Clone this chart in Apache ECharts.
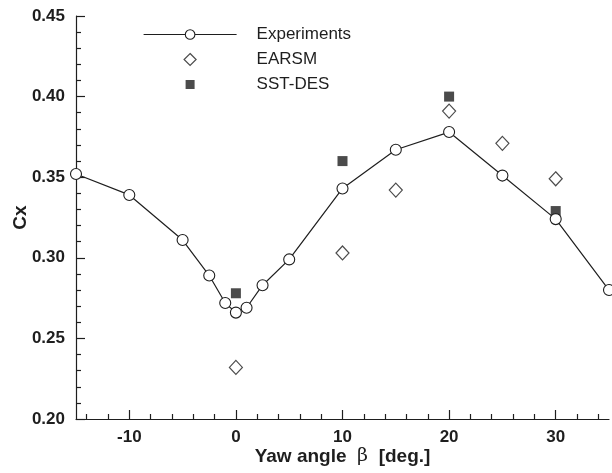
<!DOCTYPE html>
<html>
<head>
<meta charset="utf-8">
<script src="https://cdn.jsdelivr.net/npm/echarts@6/dist/echarts.min.js"></script>
<style>html,body{margin:0;padding:0;background:#fff;}#c{width:612px;height:473px;}</style>
</head>
<body>
<div id="c"></div>
<script>
var expX = [-15, -10, -5, -2.5, -1, 0, 1, 2.5, 5, 10, 15, 20, 25, 30, 35];
var expY = [0.352, 0.339, 0.311, 0.289, 0.272, 0.266, 0.269, 0.283, 0.299, 0.343, 0.367, 0.378, 0.351, 0.324, 0.280];
var earsmX = [0, 10, 15, 20, 25, 30];
var earsmY = [0.232, 0.303, 0.342, 0.391, 0.371, 0.349];
var sstX = [0, 10, 20, 30];
var sstY = [0.278, 0.360, 0.400, 0.329];
var xMajorTicks = [-10, 0, 10, 20, 30];
var xMinorTicks = [-14, -12, -8, -6, -4, -2, 2, 4, 6, 8, 12, 14, 16, 18, 22, 24, 26, 28, 32, 34];

function pairs(xs, ys) { return xs.map(function (x, i) { return [x, ys[i]]; }); }

var ink = '#1e1e1e';
var font = 'Liberation Sans';
var chart = echarts.init(document.getElementById('c'), null, { renderer: 'canvas' });
chart.setOption({
  animation: false,
  backgroundColor: '#fff',
  grid: { left: 76, right: 3, top: 16, bottom: 54, containLabel: false, outerBoundsMode: 'none' },
  legend: {
    orient: 'vertical',
    left: 138, top: 21,
    itemWidth: 93, itemHeight: 12, itemGap: 8,
    textStyle: { fontFamily: font, fontSize: 17, color: ink, padding: [0, 0, 0, 15] },
    data: [
      { name: 'Experiments', itemStyle: { borderWidth: 1.1 }, lineStyle: { width: 1.2 } },
      { name: 'EARSM', icon: 'path://M0,0M24,24M12,0L24,12L12,24L0,12Z', itemStyle: { borderWidth: 1.2 } },
      { name: 'SST-DES', icon: 'path://M0,0M24,24M3,3L21,3L21,21L3,21Z' }
    ]
  },
  xAxis: [{
    type: 'value', min: -15, max: 35,
    axisLine: { show: true, onZero: false, lineStyle: { color: ink, width: 1.2 } },
    axisTick: { show: true, inside: true, length: 9, customValues: xMajorTicks, lineStyle: { color: ink, width: 1.2 } },
    axisLabel: { customValues: xMajorTicks, fontFamily: font, fontSize: 17, fontWeight: 'bold', color: ink, margin: 10 },
    splitLine: { show: false },
    name: 'Yaw angle  {b|β}  [deg.]',
    nameLocation: 'middle', nameGap: 28, nameMoveOverlap: false,
    nameTextStyle: {
      fontFamily: font, fontSize: 19, fontWeight: 'bold', color: ink,
      rich: { b: { fontFamily: 'DejaVu Serif', fontSize: 19, fontWeight: 'normal', color: ink } }
    }
  }, {
    type: 'value', min: -15, max: 35, position: 'bottom',
    axisLine: { show: false, onZero: false },
    axisTick: { show: true, inside: true, length: 5, customValues: xMinorTicks, lineStyle: { color: ink, width: 1.2 } },
    axisLabel: { show: false },
    splitLine: { show: false }
  }],
  yAxis: {
    type: 'value', min: 0.20, max: 0.45, interval: 0.05,
    axisLine: { show: true, onZero: false, lineStyle: { color: ink, width: 1.2 } },
    axisTick: { show: true, inside: true, length: 9, lineStyle: { color: ink, width: 1.2 } },
    minorTick: { show: true, splitNumber: 5, length: 5, lineStyle: { color: ink, width: 1.2 } },
    axisLabel: { formatter: function (v) { return v.toFixed(2); }, fontFamily: font, fontSize: 17, fontWeight: 'bold', color: ink, margin: 11 },
    splitLine: { show: false },
    name: 'Cx', nameLocation: 'middle', nameGap: 46, nameMoveOverlap: false,
    nameTextStyle: { fontFamily: font, fontSize: 19, fontWeight: 'bold', color: ink }
  },
  series: [
    {
      name: 'EARSM', type: 'scatter', data: pairs(earsmX, earsmY),
      symbol: 'diamond', symbolSize: [13, 14], z: 3,
      itemStyle: { color: '#fff', borderColor: ink, borderWidth: 1.2 }
    },
    {
      name: 'SST-DES', type: 'scatter', data: pairs(sstX, sstY),
      symbol: 'rect', symbolSize: 10, z: 3,
      itemStyle: { color: ink }
    },
    {
      name: 'Experiments', type: 'line', data: pairs(expX, expY),
      symbol: 'circle', symbolSize: 11, clip: false, z: 4,
      lineStyle: { color: ink, width: 1.2 },
      itemStyle: { color: '#fff', borderColor: ink, borderWidth: 1.1 }
    }
  ]
});
</script>
</body>
</html>
